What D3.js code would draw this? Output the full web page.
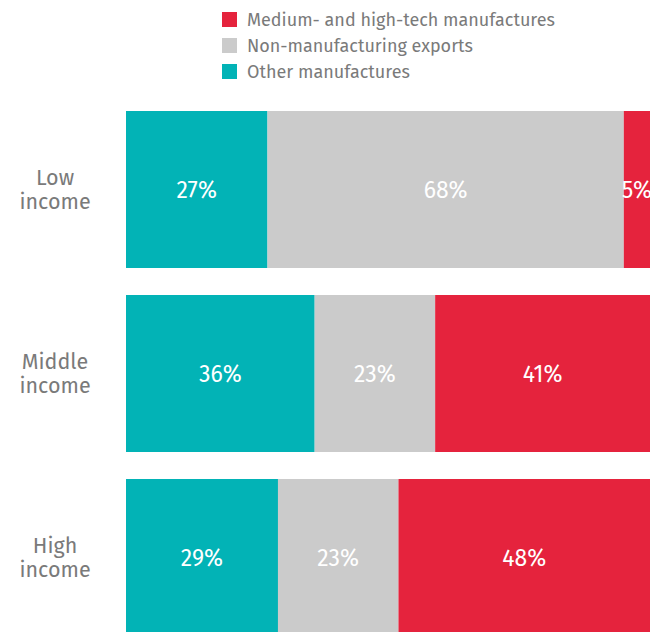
<!DOCTYPE html>
<html>
<head>
<meta charset="utf-8">
<script src="https://cdn.jsdelivr.net/npm/d3@7"></script>
<style>
  body { margin: 0; background: #fff; }
  text { font-family: "Fira Sans", "Noto Sans", sans-serif; }
</style>
</head>
<body>
<div id="chart"></div>
<script>
var width = 661;
var height = 632;

// datos
var groups = ["Low income", "Middle income", "High income"];
var seriesNames = ["Other manufactures", "Non-manufacturing exports", "Medium- and high-tech manufactures"];
var other = [27, 36, 29];
var nonManuf = [68, 23, 23];
var medHigh = [5, 41, 48];
var legendOrder = ["Medium- and high-tech manufactures", "Non-manufacturing exports", "Other manufactures"];
var colors = ["#02b3b6", "#cbcbcb", "#e5233d"];

var rows = groups.map(function (g, i) {
    return { group: g, "Other manufactures": other[i], "Non-manufacturing exports": nonManuf[i], "Medium- and high-tech manufactures": medHigh[i] };
});

var stack = d3.stack().keys(seriesNames);
var series = stack(rows);

var x = d3.scaleLinear().domain([0, 100]).range([126, 650]);
var y = d3.scaleBand().domain(groups).range([111, 636]).paddingInner(27 / 184).paddingOuter(0);
var color = d3.scaleOrdinal().domain(seriesNames).range(colors);

var svg = d3.select("#chart")
    .append("svg")
    .attr("width", width)
    .attr("height", height);

var layer = svg.selectAll(".layer")
    .data(series)
    .enter()
    .append("g")
    .attr("class", "layer")
    .attr("fill", function (d) { return color(d.key); });

layer.selectAll("rect")
    .data(function (d) { return d; })
    .enter()
    .append("rect")
    .attr("x", function (d) { return x(d[0]); })
    .attr("y", function (d) { return y(d.data.group); })
    .attr("width", function (d) { return x(d[1]) - x(d[0]); })
    .attr("height", y.bandwidth());

// etiquetas de porcentaje
layer.selectAll(".val")
    .data(function (d) { return d; })
    .enter()
    .append("text")
    .attr("class", "val")
    .attr("x", function (d) { return (x(d[0]) + x(d[1])) / 2; })
    .attr("y", function (d) { return y(d.data.group) + y.bandwidth() / 2; })
    .attr("dy", "0.35em")
    .attr("text-anchor", "middle")
    .attr("fill", "#fff")
    .style("font-size", "23px")
    .text(function (d) { return (d[1] - d[0]) + "%"; });

// etiquetas de categoria
var cat = svg.selectAll(".cat")
    .data(groups)
    .enter()
    .append("text")
    .attr("class", "cat")
    .attr("text-anchor", "middle")
    .attr("fill", "#7a7a7a")
    .style("font-size", "21.5px")
    .attr("transform", function (d) { return "translate(55," + (y(d) + y.bandwidth() / 2) + ")"; });

cat.append("tspan")
    .attr("x", 0)
    .attr("y", -12)
    .attr("dy", "0.35em")
    .text(function (d) { return d.split(" ")[0]; });
cat.append("tspan")
    .attr("x", 0)
    .attr("y", 12)
    .attr("dy", "0.35em")
    .text(function (d) { return d.split(" ")[1]; });

// leyenda
var legend = svg.selectAll(".legend")
    .data(legendOrder)
    .enter()
    .append("g")
    .attr("class", "legend")
    .attr("transform", function (d, i) { return "translate(222," + (20 + i * 26) + ")"; });

legend.append("rect")
    .attr("x", 0)
    .attr("y", -8)
    .attr("width", 15)
    .attr("height", 15)
    .attr("fill", function (d) { return color(d); });

legend.append("text")
    .attr("x", 25)
    .attr("y", 0)
    .attr("dy", "0.35em")
    .attr("fill", "#7a7a7a")
    .style("font-size", "18px")
    .text(function (d) { return d; });
</script>
</body>
</html>
